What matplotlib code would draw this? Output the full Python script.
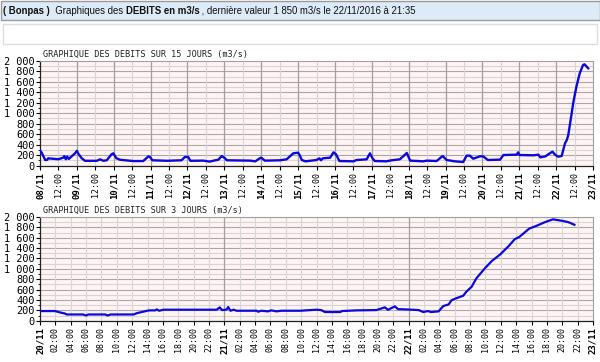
import numpy as np
import matplotlib
matplotlib.use("Agg")
import matplotlib.pyplot as plt
from matplotlib.patches import Rectangle
from matplotlib.ticker import MultipleLocator, FuncFormatter

# 15-day chart: days since 08/11 00:00, flow in m3/s
days_15 = [0.0, 0.05, 0.14, 0.2, 0.22, 0.5, 0.63, 0.66, 0.7, 0.74, 0.78, 0.95, 1.0, 1.05,
           1.13, 1.22, 1.54, 1.63, 1.72, 1.81, 1.94, 1.99, 2.07, 2.17, 2.53, 2.8, 2.94, 2.98,
           3.05, 3.44, 3.84, 3.93, 4.02, 4.08, 4.43, 4.6, 4.84, 4.93, 5.02, 5.07, 5.7, 5.84,
           5.96, 6.0, 6.1, 6.51, 6.69, 6.87, 7.0, 7.05, 7.1, 7.2, 7.5, 7.58, 7.62, 7.67, 7.87,
           7.96, 8.03, 8.12, 8.5, 8.59, 8.86, 8.95, 9.02, 9.08, 9.4, 9.54, 9.76, 9.95, 10.04,
           10.4, 10.49, 10.76, 10.92, 11.03, 11.25, 11.48, 11.57, 11.66, 11.75, 11.93, 12.02,
           12.15, 12.48, 12.57, 12.93, 12.97, 13.0, 13.38, 13.52, 13.57, 13.71, 13.8, 13.9,
           13.98, 14.06, 14.15, 14.24, 14.29, 14.33, 14.4, 14.47, 14.55, 14.64, 14.73, 14.77,
           14.87]
flow_15 = [290, 240, 105, 110, 137, 120, 150, 180, 120, 170, 125, 233, 280, 214,
           140, 90, 90, 118, 90, 100, 214, 233, 140, 110, 85, 85, 175, 163,
           100, 90, 100, 163, 163, 90, 93, 75, 112, 182, 137, 100, 93, 80,
           137, 150, 93, 100, 118, 233, 245, 190, 105, 80, 105, 137, 100, 137, 150,
           252, 214, 86, 80, 105, 118, 233, 137, 86, 80, 100, 118, 239, 93,
           80, 93, 86, 182, 105, 80, 67, 188, 188, 130, 175, 175,
           105, 112, 201, 207, 252, 201, 195, 207, 156, 175, 220, 265,
           201, 169, 182, 424, 488, 584, 903, 1222, 1508, 1764, 1923, 1936,
           1860]

# 3-day chart: hours since 20/11 00:00
hours_3 = [0, 1.95, 2.6, 3.25, 3.5, 5.6, 6.0, 6.3, 8.5, 8.8, 9.2, 12.2, 12.6, 13.8, 14.2,
           15.0, 15.2, 15.5, 16.1, 23.0, 23.4, 23.7, 24.3, 24.5, 24.8, 25.2, 25.6, 28.2,
           28.4, 28.8, 29.7, 30.1, 30.8, 31.4, 33.85, 36.0, 36.6, 37.1, 39.1, 39.3, 41.2,
           43.8, 44.9, 45.3, 46.2, 46.6, 48.0, 49.3, 49.9, 50.5, 50.9, 51.9, 52.5, 53.2,
           53.6, 54.25, 55.1, 55.5, 56.2, 56.8, 57.9, 58.8, 59.9, 61.0, 61.8, 62.4, 63.7,
           64.6, 65.8, 66.8, 68.1, 68.8, 69.58]
flow_3 = [186, 186, 160, 138, 120, 120, 100, 120, 120, 100, 120, 120, 145, 186, 199,
          199, 218, 192, 212, 212, 257, 205, 215, 263, 192, 212, 192, 192,
          173, 192, 180, 199, 180, 192, 192, 212, 205, 167, 167, 186, 199,
          205, 257, 210, 276, 224, 215, 205, 167, 186, 167, 180, 282, 314,
          397, 436, 481, 558, 654, 814, 1007, 1148, 1276, 1436, 1571, 1615, 1776,
          1827, 1904, 1955, 1923, 1900, 1850]

day_labels_15 = ["08/11", "09/11", "10/11", "11/11", "12/11", "13/11", "14/11", "15/11",
                 "16/11", "17/11", "18/11", "19/11", "20/11", "21/11", "22/11", "23/11"]
day_labels_3 = ["20/11", "21/11", "22/11", "23/11"]

title_15 = "GRAPHIQUE DES DEBITS SUR 15 JOURS (m3/s)"
title_3 = "GRAPHIQUE DES DEBITS SUR 3 JOURS (m3/s)"

MONO = "DejaVu Sans Mono"
BG = "#fff3f3"
LINE = "#0a0adc"

fig = plt.figure(figsize=(6, 3.62), dpi=100)
W, H = 600, 362

# header bar
fig.patches.append(Rectangle((0.5 / W, 1 - 20 / H), 599 / W, 19.5 / H, transform=fig.transFigure,
                             facecolor="#dcebf7", edgecolor="#9a9a9a", lw=1))
fig.patches.append(Rectangle((3 / W, 1 - 44 / H), 594 / W, 20 / H, transform=fig.transFigure,
                             facecolor="white", edgecolor="#dddddd", lw=1))

pieces = [("( Bonpas )", "bold"), ("  Graphiques des ", "normal"), ("DEBITS en m3/s", "bold"),
          (" , dernière valeur 1 850 m3/s le 22/11/2016 à 21:35", "normal")]
fig.canvas.draw()
r = fig.canvas.get_renderer()
xpos = 3 / W
for s, wgt in pieces:
    t = fig.text(xpos, 1 - 10.5 / H, s, fontsize=6.95, fontweight=wgt, family="Liberation Sans",
                 va="center", ha="left", color="#111111")
    bb = t.get_window_extent(renderer=r)
    xpos += bb.width / W


def yfmt(v, pos):
    return f"{int(v):,}".replace(",", " ")


def setup(ax, ticks, labels, bold_mask, major_pos, minor_pos, title):
    ax.set_facecolor(BG)
    ax.set_ylim(0, 2000)
    ax.yaxis.set_major_locator(MultipleLocator(200))
    ax.yaxis.set_minor_locator(MultipleLocator(100))
    ax.yaxis.set_major_formatter(FuncFormatter(yfmt))
    for y in np.arange(100, 2000, 100):
        c = "#a8a8a8" if y % 200 == 0 else "#d6d6d6"
        ax.axhline(y, color=c, lw=0.8, zorder=1)
    for x in minor_pos:
        ax.axvline(x, color="#d6d6d6", lw=0.8, zorder=1)
    for x in major_pos:
        ax.axvline(x, color="#a0a0a0", lw=0.9, zorder=1)
    ax.set_xticks(ticks)
    ax.set_xticklabels(labels, rotation=90, family=MONO, fontsize=6)
    for lab, b in zip(ax.get_xticklabels(), bold_mask):
        if b:
            lab.set_fontweight("bold")
            lab.set_fontsize(6.5)
    ax.tick_params(axis="x", length=3, width=0.8, pad=1.5, color="black")
    ax.tick_params(axis="y", which="major", length=3, width=0.8, pad=1, labelsize=7.4)
    ax.tick_params(axis="y", which="minor", length=1.5, width=0.6)
    for lab in ax.get_yticklabels():
        lab.set_family(MONO)
    for side in ("top", "right"):
        ax.spines[side].set_color("#a0a0a0")
    for side in ("left", "bottom"):
        ax.spines[side].set_color("#222222")
        ax.spines[side].set_linewidth(0.9)
    ax.text(0.005, 1.015, title, transform=ax.transAxes, family=MONO, fontsize=6.1,
            ha="left", va="bottom", color="#222222")


# top: 15 days
ax1 = fig.add_axes([40 / W, 1 - 165.5 / H, 553 / W, 104.5 / H])
ax1.set_xlim(0, 15)
t15 = np.arange(0, 15.01, 0.5)
lab15 = []
bold15 = []
for i, t in enumerate(t15):
    if i % 2 == 0:
        lab15.append(day_labels_15[i // 2])
        bold15.append(True)
    else:
        lab15.append("12:00")
        bold15.append(False)
setup(ax1, t15, lab15, bold15, np.arange(1, 15), np.arange(0.5, 15, 1), title_15)
ax1.plot(days_15, flow_15, color=LINE, lw=1.7, zorder=3, solid_joinstyle="round")

# bottom: 3 days
ax2 = fig.add_axes([40 / W, 1 - 320.7 / H, 553 / W, 103.7 / H])
ax2.set_xlim(0, 72)
t3 = np.arange(0, 72.01, 2)
lab3 = []
bold3 = []
for t in t3:
    h = int(t) % 24
    if h == 0:
        lab3.append(day_labels_3[int(t) // 24])
        bold3.append(True)
    else:
        lab3.append(f"{h:02d}:00")
        bold3.append(False)
minor3 = [t for t in t3 if int(t) % 24 != 0]
setup(ax2, t3, lab3, bold3, [24, 48], minor3, title_3)
ax2.plot(hours_3, flow_3, color=LINE, lw=1.6, zorder=3, solid_joinstyle="round")

fig.savefig("out.png", dpi=100)
